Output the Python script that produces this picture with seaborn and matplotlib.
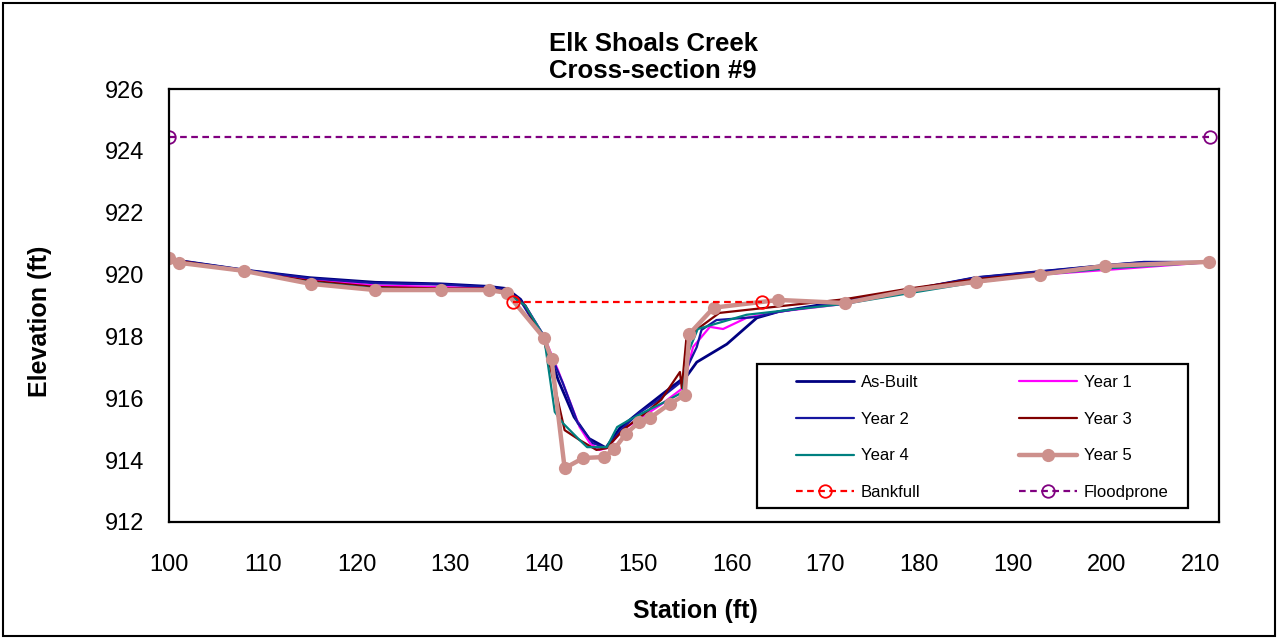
import numpy as np
import pandas as pd
import matplotlib
matplotlib.use("Agg")
import matplotlib.pyplot as plt
import seaborn as sns

# survey data (station ft, elevation ft)
asbuilt_st = [100.0, 108.0, 115.0, 122.0, 129.0, 134.0, 136.0, 137.5, 140.0, 141.5, 143.2, 144.8, 146.6,
              148.1, 150.2, 152.9, 155.3, 156.3, 159.5, 162.7, 165.0, 172.0, 179.0, 186.0, 193.0, 200.0, 204.0, 211.0]
asbuilt_el = [920.50, 920.15, 919.90, 919.75, 919.70, 919.62, 919.55, 919.20, 918.00, 916.60, 915.40, 914.70, 914.40,
              915.04, 915.56, 916.20, 916.75, 917.17, 917.75, 918.60, 918.80, 919.15, 919.50, 919.90, 920.10, 920.30, 920.40, 920.40]

year1_st = [100.0, 108.0, 115.0, 122.0, 129.0, 134.0, 136.0, 138.0, 140.0, 141.5, 143.8, 144.9, 145.9, 146.7,
            148.5, 150.5, 152.5, 154.8, 155.9, 157.7, 159.1, 161.6, 165.0, 172.0, 179.0, 186.0, 193.0, 200.0, 211.0]
year1_el = [920.50, 920.10, 919.85, 919.65, 919.60, 919.55, 919.45, 919.00, 918.00, 916.90, 915.07, 914.55, 914.33, 914.39,
            915.00, 915.40, 915.80, 916.33, 917.66, 918.31, 918.24, 918.60, 918.80, 919.05, 919.45, 919.80, 920.00, 920.15, 920.40]

year2_st = [100.0, 108.0, 115.0, 122.0, 129.0, 134.0, 136.0, 137.5, 140.0, 142.0, 143.6, 145.2, 146.6,
            148.3, 150.0, 152.0, 154.5, 156.3, 156.8, 158.4, 162.7, 165.0, 172.0, 179.0, 186.0, 193.0, 200.0, 204.0, 211.0]
year2_el = [920.50, 920.15, 919.88, 919.72, 919.68, 919.60, 919.50, 919.15, 917.90, 916.50, 915.20, 914.55, 914.40,
            915.00, 915.50, 915.90, 916.50, 917.66, 918.21, 918.53, 918.63, 918.80, 919.10, 919.50, 919.90, 920.10, 920.30, 920.40, 920.40]

year3_st = [100.0, 108.0, 115.0, 122.0, 129.0, 134.0, 136.0, 138.0, 140.0, 140.6, 142.2, 143.8, 145.6, 146.7,
            148.5, 150.5, 152.5, 154.5, 154.7, 155.2, 158.7, 166.5, 172.0, 179.0, 186.0, 193.0, 200.0, 211.0]
year3_el = [920.50, 920.10, 919.80, 919.60, 919.55, 919.55, 919.45, 919.00, 917.90, 917.10, 914.97, 914.65, 914.33, 914.39,
            915.00, 915.45, 915.95, 916.85, 916.33, 917.98, 918.76, 919.02, 919.20, 919.55, 919.85, 920.05, 920.25, 920.40]

year4_st = [100.0, 108.0, 115.0, 122.0, 129.0, 134.0, 136.0, 138.0, 140.0, 140.4, 141.15, 142.0, 143.8, 144.6, 146.7,
            147.8, 149.1, 151.0, 153.0, 154.8, 155.4, 156.4, 161.6, 166.0, 172.0, 179.0, 186.0, 193.0, 200.0, 211.0]
year4_el = [920.45, 920.10, 919.75, 919.55, 919.50, 919.50, 919.40, 919.00, 918.00, 917.14, 915.56, 915.20, 914.65, 914.42, 914.42,
            915.07, 915.30, 915.60, 915.90, 916.20, 917.50, 918.24, 918.70, 918.85, 919.05, 919.40, 919.75, 920.00, 920.20, 920.40]

year5_st = [100.0, 101.1, 108.0, 115.1, 122.0, 129.0, 134.1, 136.0, 140.0, 140.8, 142.2, 144.2, 146.4, 147.5,
            148.7, 150.1, 151.3, 153.4, 155.0, 155.5, 158.1, 165.0, 172.1, 178.9, 186.1, 192.9, 199.8, 210.9]
year5_el = [920.54, 920.38, 920.12, 919.70, 919.50, 919.50, 919.50, 919.41, 917.95, 917.28, 913.74, 914.07, 914.10, 914.36,
            914.84, 915.22, 915.36, 915.82, 916.10, 918.08, 918.93, 919.18, 919.08, 919.48, 919.77, 920.00, 920.28, 920.41]

bankfull_st = [136.7, 163.2]
bankfull_el = [919.1, 919.1]

floodprone_st = [100.0, 211.0]
floodprone_el = [924.45, 924.45]

x_ticks = list(range(100, 211, 10))
y_ticks = list(range(912, 927, 2))

# style
sns.set_style("white")
plt.rcParams["font.family"] = ["Liberation Sans", "DejaVu Sans"]
plt.rcParams["text.color"] = "black"

fig = plt.figure(figsize=(12.78, 6.39), dpi=100)
ax = fig.add_axes([169 / 1278, 1 - 522 / 639, 1050 / 1278, 433 / 639])

series = [
    ("As-Built", asbuilt_st, asbuilt_el, "#000080", 2.0),
    ("Year 1", year1_st, year1_el, "#FF00FF", 1.6),
    ("Year 2", year2_st, year2_el, "#1515A0", 1.6),
    ("Year 3", year3_st, year3_el, "#800000", 1.6),
    ("Year 4", year4_st, year4_el, "#008080", 1.6),
]

for name, st, el, col, lw in series:
    sns.lineplot(x=st, y=el, ax=ax, color=col, linewidth=lw, sort=False,
                 estimator=None, label=name)

sns.lineplot(x=year5_st, y=year5_el, ax=ax, color="#CD908C", linewidth=3.2, sort=False,
             estimator=None, marker="o", markersize=9.5, markeredgewidth=0, label="Year 5")

sns.lineplot(x=bankfull_st, y=bankfull_el, ax=ax, color="#FF0000", linewidth=1.6, sort=False,
             estimator=None, linestyle=(0, (3, 2)), marker="o", markersize=9,
             markerfacecolor="none", markeredgecolor="#FF0000", markeredgewidth=1.3, label="Bankfull")
sns.lineplot(x=floodprone_st, y=floodprone_el, ax=ax, color="#800080", linewidth=1.6, sort=False,
             estimator=None, linestyle=(0, (3, 2)), marker="o", markersize=9,
             markerfacecolor="none", markeredgecolor="#800080", markeredgewidth=1.3, label="Floodprone")

ax.set_xlim(100, 212)
ax.set_ylim(912, 926)
ax.set_xticks(x_ticks)
ax.set_yticks(y_ticks)
ax.set_xlabel("")
ax.set_ylabel("")
ax.tick_params(axis="both", direction="out", length=6, width=1, color="#808080",
               labelsize=17, labelcolor="black")
ax.tick_params(axis="x", pad=17)
ax.tick_params(axis="y", pad=12)
for sp in ax.spines.values():
    sp.set_color("black")
    sp.set_linewidth(1.6)

# legend, Excel order (row-wise) -> matplotlib column-wise
handles, labels = ax.get_legend_handles_labels()
order = ["As-Built", "Year 2", "Year 4", "Bankfull", "Year 1", "Year 3", "Year 5", "Floodprone"]
hmap = dict(zip(labels, handles))
leg = ax.legend([hmap[k] for k in order], order, ncol=2, loc="upper left",
                bbox_to_anchor=((796 - 169) / 1050, (522 - 375) / 433),
                fontsize=12, frameon=False, handlelength=3.5, handletextpad=0.4,
                borderaxespad=0, borderpad=0, labelspacing=1.3, columnspacing=5.9)

# legend box drawn separately (Excel style wide padding)
ax.add_patch(plt.Rectangle(((757 - 169) / 1050, (522 - 508) / 433), 431 / 1050, 144 / 433,
                           transform=ax.transAxes, fill=True, facecolor="white",
                           edgecolor="black", linewidth=1.6, zorder=4.9))
leg.set_zorder(5)

# titles
fig.text(653 / 1278, 1 - 78 / 639, "Elk Shoals Creek\nCross-section #9", ha="center",
         va="baseline", fontsize=18.5, fontweight="bold", linespacing=1.15)
fig.text(695 / 1278, 1 - 618 / 639, "Station (ft)", ha="center", va="baseline",
         fontsize=18, fontweight="bold")
fig.text(40 / 1278, 1 - 321 / 639, "Elevation (ft)", ha="center", va="center",
         rotation=90, fontsize=18, fontweight="bold")

# chart area border
fig.patches.append(plt.Rectangle((3 / 1278, 3 / 639), 1 - 6 / 1278, 1 - 6 / 639,
                                 transform=fig.transFigure, fill=False,
                                 edgecolor="black", linewidth=1.5))

fig.savefig("out.png", dpi=100)
